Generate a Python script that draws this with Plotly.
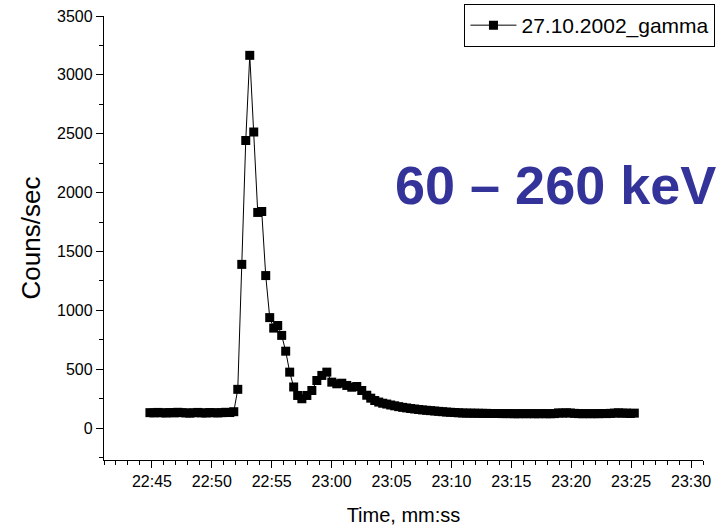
import plotly.graph_objects as go

DAY = "2002-10-27 "

# --- data -----------------------------------------------------------------
base_times = ["22:44:50", "22:45:10", "22:45:30", "22:45:50", "22:46:10", "22:46:30",
              "22:46:50", "22:47:10", "22:47:30", "22:47:50", "22:48:10", "22:48:30",
              "22:48:50", "22:49:10", "22:49:30", "22:49:50", "22:50:10", "22:50:30",
              "22:50:50", "22:51:10", "22:51:30", "22:51:50"]
base_counts = [132, 130, 134, 131, 129, 133, 130, 135, 132, 130, 128,
               131, 134, 130, 129, 133, 131, 130, 132, 135, 133, 140]

flare_times = ["22:52:10", "22:52:30", "22:52:50", "22:53:10", "22:53:30", "22:53:50",
               "22:54:10", "22:54:30", "22:54:50", "22:55:10", "22:55:30", "22:55:50",
               "22:56:10", "22:56:30", "22:56:50", "22:57:10", "22:57:31", "22:57:56",
               "22:58:21", "22:58:46", "22:59:11", "22:59:36", "23:00:01", "23:00:26",
               "23:00:51", "23:01:16", "23:01:41", "23:02:06", "23:02:31", "23:02:56"]
flare_counts = [330, 1391, 2443, 3166, 2515, 1832, 1840, 1296, 939, 850, 872, 788,
                654, 476, 350, 278, 250, 278, 320, 405, 448, 476, 391, 377,
                382, 363, 348, 354, 320, 280]

tail_times = ["23:03:16", "23:03:36", "23:03:56", "23:04:16", "23:04:36", "23:04:56",
              "23:05:16", "23:05:36", "23:05:56", "23:06:16", "23:06:36", "23:06:56",
              "23:07:16", "23:07:36", "23:07:56", "23:08:16", "23:08:36", "23:08:56",
              "23:09:16", "23:09:36", "23:09:56", "23:10:16", "23:10:36", "23:10:56",
              "23:11:16", "23:11:36", "23:11:56", "23:12:16", "23:12:36", "23:12:56",
              "23:13:16", "23:13:36", "23:13:56", "23:14:16", "23:14:36", "23:14:56",
              "23:15:16", "23:15:36", "23:15:56", "23:16:16", "23:16:36", "23:16:56",
              "23:17:16", "23:17:36", "23:17:56", "23:18:16", "23:18:36", "23:18:56",
              "23:19:16", "23:19:36", "23:19:56", "23:20:16", "23:20:36", "23:20:56",
              "23:21:16", "23:21:36", "23:21:56", "23:22:16", "23:22:36", "23:22:56",
              "23:23:16", "23:23:36", "23:23:56", "23:24:16", "23:24:36", "23:24:56",
              "23:25:16"]
tail_counts = [255, 235, 222, 212, 205, 197, 190, 183, 177, 172, 167, 163,
               159, 155, 152, 149, 146, 143, 140, 137, 135, 133, 131, 129,
               128, 128, 127, 127, 126, 126, 125, 125, 125, 124, 124, 124,
               123, 123, 124, 123, 124, 123, 123, 124, 123, 123, 124, 130,
               128, 131, 129, 126, 124, 123, 124, 123, 124, 123, 125, 124,
               126, 128, 131, 127, 129, 125, 128]

series_name = "27.10.2002_gamma"
energy_label = "60 – 260 keV"
x_title = "Time, mm:ss"
y_title = "Couns/sec"

times = base_times + flare_times + tail_times
counts = base_counts + flare_counts + tail_counts
x_vals = [DAY + t for t in times]

FONT = "Liberation Sans, Arial, sans-serif"

fig = go.Figure()
fig.add_trace(go.Scatter(
    x=x_vals, y=counts, mode="lines+markers", name=series_name,
    line=dict(color="black", width=1),
    marker=dict(symbol="square", size=9, color="black"),
    showlegend=True,
))

fig.update_layout(
    width=718, height=526,
    margin=dict(l=103.5, r=14.5, t=16, b=66, autoexpand=False),
    paper_bgcolor="white", plot_bgcolor="white",
    font=dict(family=FONT, color="black", size=16),
    showlegend=True,
    legend=dict(
        x=1.0208, xanchor="right", y=1.0270, yanchor="top",
        bgcolor="white", bordercolor="black", borderwidth=1,
        font=dict(family=FONT, size=21, color="black"),
        itemwidth=46,
    ),
    xaxis=dict(
        type="date",
        range=[DAY + "22:41:00", DAY + "23:31:00"],
        dtick=300000, tick0=DAY + "22:45:00", tickformat="%H:%M",
        showgrid=False, zeroline=False,
        showline=True, linecolor="black", linewidth=1.3,
        ticks="outside", ticklen=7, tickwidth=1, tickcolor="black",
        tickfont=dict(family=FONT, size=16, color="black"),
        minor=dict(dtick=60000, tick0=DAY + "22:41:00", ticks="outside",
                   ticklen=4, tickwidth=1, tickcolor="black", showgrid=False),
        title=dict(text=x_title, font=dict(family=FONT, size=20, color="black"), standoff=18),
        automargin=False,
    ),
    yaxis=dict(
        range=[-270, 3500],
        dtick=500, tick0=0,
        showgrid=False, zeroline=False,
        showline=True, linecolor="black", linewidth=1.3,
        ticks="outside", ticklen=7, tickwidth=1, tickcolor="black",
        tickfont=dict(family=FONT, size=16, color="black"),
        minor=dict(dtick=250, ticks="outside", ticklen=4, tickwidth=1,
                   tickcolor="black", showgrid=False),
        title=dict(text=y_title, font=dict(family=FONT, size=26, color="black"), standoff=8),
        automargin=False,
    ),
    annotations=[dict(
        text="<b>" + energy_label + "</b>",
        xref="paper", yref="paper", x=0.754, y=0.619,
        xanchor="center", yanchor="middle", showarrow=False,
        font=dict(family=FONT, size=54, color="#333399"),
    )],
)

fig.write_html("out.html")
